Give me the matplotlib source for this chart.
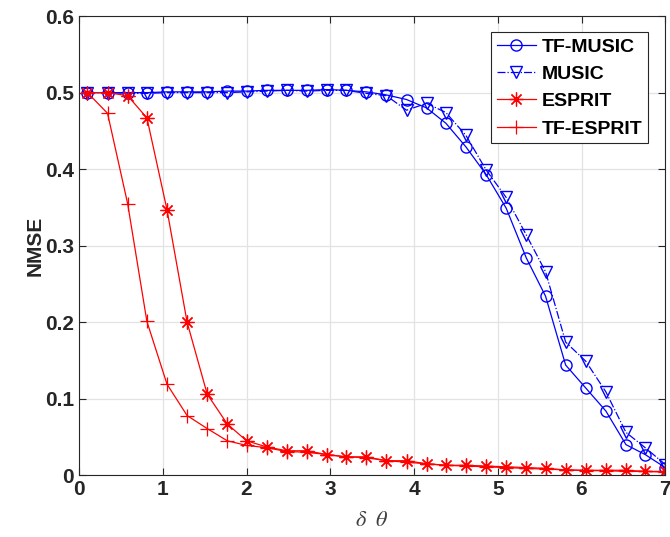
import numpy as np
import matplotlib
matplotlib.use('Agg')
import matplotlib.pyplot as plt

plt.rcParams['font.family'] = ['Liberation Sans', 'DejaVu Sans']
plt.rcParams['mathtext.fontset'] = 'stix'

# sweep of delta theta (30 points)
dtheta = [0.10, 0.34, 0.58, 0.81, 1.05, 1.29, 1.53, 1.77, 2.00, 2.24,
          2.48, 2.72, 2.96, 3.19, 3.43, 3.67, 3.91, 4.15, 4.38, 4.62,
          4.86, 5.10, 5.34, 5.57, 5.81, 6.05, 6.29, 6.53, 6.76, 7.00]

tf_music = [0.500, 0.500, 0.500, 0.500, 0.501, 0.501, 0.501, 0.502, 0.502, 0.503,
            0.503, 0.503, 0.504, 0.503, 0.501, 0.497, 0.491, 0.480, 0.460, 0.429,
            0.393, 0.349, 0.284, 0.234, 0.144, 0.114, 0.084, 0.040, 0.027, 0.010]
music = [0.500, 0.500, 0.499, 0.499, 0.500, 0.500, 0.500, 0.500, 0.501, 0.502,
         0.503, 0.502, 0.503, 0.503, 0.499, 0.496, 0.477, 0.486, 0.474, 0.444,
         0.399, 0.363, 0.314, 0.266, 0.174, 0.149, 0.109, 0.056, 0.036, 0.014]
esprit = [0.500, 0.500, 0.496, 0.467, 0.347, 0.200, 0.106, 0.067, 0.045, 0.037,
          0.032, 0.032, 0.027, 0.024, 0.024, 0.019, 0.019, 0.015, 0.013, 0.013,
          0.012, 0.011, 0.010, 0.009, 0.007, 0.0065, 0.0065, 0.0065, 0.005, 0.005]
tf_esprit = [0.500, 0.473, 0.355, 0.201, 0.119, 0.078, 0.061, 0.045, 0.039, 0.036,
             0.031, 0.030, 0.027, 0.024, 0.023, 0.019, 0.017, 0.015, 0.013, 0.012,
             0.011, 0.010, 0.009, 0.008, 0.007, 0.006, 0.006, 0.005, 0.005, 0.004]

fig = plt.figure(figsize=(6.7, 5.37), dpi=100)
ax = fig.add_axes([0.118, 0.115, 0.875, 0.855])

# matlab style asterisk: + and x overlaid
asterisk = (8, 2, 0)

ax.plot(dtheta, tf_music, '-', color='blue', marker='o', mfc='none',
        ms=8, lw=0.9, label='TF-MUSIC')
ax.plot(dtheta, music, '-.', color='blue', marker='v', mfc='none',
        ms=9, lw=0.9, label='MUSIC')
ax.plot(dtheta, esprit, '-', color='red', marker=asterisk, ms=10, lw=0.9,
        mew=0.9, label='ESPRIT')
ax.plot(dtheta, tf_esprit, '-', color='red', marker='+', ms=10, lw=0.9,
        mew=0.9, label='TF-ESPRIT')

ax.set_xlim(0, 7)
ax.set_ylim(0, 0.6)
ax.set_xticks(range(8))
ax.set_yticks([0, 0.1, 0.2, 0.3, 0.4, 0.5, 0.6])
ax.set_yticklabels(['0', '0.1', '0.2', '0.3', '0.4', '0.5', '0.6'])
ax.grid(True, color='#e3e3e3', lw=0.9)
ax.set_axisbelow(True)
ax.tick_params(direction='in', top=True, right=True, labelsize=15,
               colors='#262626', length=5, width=0.8)
for lbl in ax.get_xticklabels() + ax.get_yticklabels():
    lbl.set_fontweight('bold')
for s in ax.spines.values():
    s.set_color('#262626')
    s.set_linewidth(0.8)

ax.set_xlabel(r'$\delta\ \ \theta$', fontsize=16, color='#404040', labelpad=8)
ax.set_ylabel('NMSE', fontsize=15, fontweight='bold', color='#262626',
              labelpad=0)

leg = ax.legend(loc='upper right', bbox_to_anchor=(0.971, 0.965),
                prop={'weight': 'bold', 'size': 14}, fancybox=False,
                edgecolor='#262626', framealpha=1, borderpad=0.3,
                labelspacing=0.5, handletextpad=0.3, handlelength=2.0,
                borderaxespad=0.0)
leg.get_frame().set_linewidth(0.8)

fig.savefig('out.png', dpi=100)
